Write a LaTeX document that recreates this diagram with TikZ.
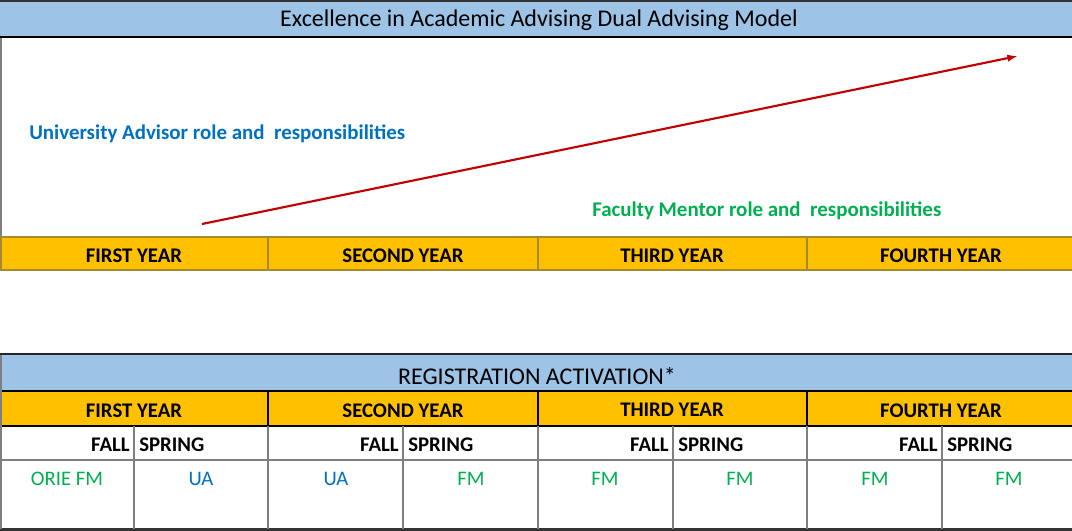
\documentclass[tikz,border=0pt]{standalone}
\usepackage{fontspec}
\setmainfont{Carlito}
\usetikzlibrary{arrows.meta}
\definecolor{barblue}{HTML}{9DC3E6}
\definecolor{yearorange}{HTML}{FFC000}
\definecolor{goldline}{HTML}{A88A2E}
\definecolor{arrowred}{HTML}{C00000}
\definecolor{uablue}{HTML}{0070C0}
\definecolor{fmgreen}{HTML}{00B050}
\definecolor{gridgray}{HTML}{7F7F7F}
\tikzset{
  titletext/.style={font=\fontsize{18}{21}\selectfont, inner sep=0pt},
  yeartext/.style={font=\bfseries\fontsize{15.6}{18}\selectfont, inner sep=0pt},
  semtext/.style={font=\bfseries\fontsize{15.6}{18}\selectfont, inner sep=0pt},
  uatext/.style={font=\fontsize{15.5}{18}\selectfont, text=uablue, inner sep=0pt},
  fmtext/.style={font=\fontsize{15.5}{18}\selectfont, text=fmgreen, inner sep=0pt},
  roletext/.style={font=\bfseries\fontsize{15.7}{18}\selectfont, inner sep=0pt, anchor=west},
}
\begin{document}
\begin{tikzpicture}[x=0.75pt,y=-0.75pt]
\useasboundingbox (0,0) rectangle (1072,531);
% ---------- top title bar ----------
\fill[barblue] (0,1) rectangle (1072,37);
\draw[line width=1.2pt, black!80] (0,1) -- (1072,1);
\draw[line width=2.2pt, black] (0,37) -- (1072,37);
\node[titletext] (title) at (539,20) {Excellence in Academic Advising Dual Advising Model};
% ---------- upper white area ----------
\draw[line width=1.2pt, gridgray] (1,38) -- (1,237);
\node[roletext, text=uablue] (ua) at (29,133.5) {University Advisor role and\ \ responsibilities};
\node[roletext, text=fmgreen] (fm) at (592,211) {Faculty Mentor role and\ \ responsibilities};
\coordinate (arrowstart) at (202,224);
\coordinate (arrowend) at (1018,56);
\draw[arrowred, line width=1.6pt, -{Latex[length=8pt,width=5.5pt]}] (arrowstart) -- (arrowend);
% ---------- upper year bar ----------
\fill[yearorange] (0,237) rectangle (1072,270);
\draw[goldline, line width=1.5pt] (0,237) -- (1072,237) (0,270) -- (1072,270) (1,237) -- (1,270);
\foreach \x in {268,538,807} \draw[goldline, line width=1pt] (\x,237) -- (\x,270);
\node[yeartext] (y1) at (134,255.5) {FIRST YEAR};
\node[yeartext] (y2) at (403,255.5) {SECOND YEAR};
\node[yeartext] (y3) at (672,255.5) {THIRD YEAR};
\node[yeartext] (y4) at (941,255.5) {FOURTH YEAR};
% ---------- registration table ----------
\fill[barblue] (0,355) rectangle (1072,391);
\fill[yearorange] (0,391) rectangle (1072,426);
\draw[line width=1.8pt, black!85] (0,354) -- (1072,354);
\draw[line width=1.5pt, black] (0,391) -- (1072,391);
\draw[line width=1.5pt, black] (0,426) -- (1072,426);
\draw[line width=1.2pt, gridgray] (0,460) -- (1072,460);
\draw[line width=1.8pt, black!80] (0,529.5) -- (1072,529.5);
\draw[line width=1.2pt, gridgray] (1,355) -- (1,529);
\foreach \x in {268,538,807} {
  \draw[line width=1.2pt, black] (\x,391) -- (\x,426);
  \draw[line width=1.2pt, gridgray] (\x,426) -- (\x,529);
}
\foreach \x in {134,403,673,942} \draw[line width=1.2pt, gridgray] (\x,426) -- (\x,529);
\node[titletext] (reg) at (537,376) {REGISTRATION ACTIVATION*};
\node[yeartext] (r1) at (134,410.5) {FIRST YEAR};
\node[yeartext] (r2) at (403,410.5) {SECOND YEAR};
\node[yeartext] (r3) at (672,410) {THIRD YEAR};
\node[yeartext] (r4) at (941,410.5) {FOURTH YEAR};
% semesters
\node[semtext, anchor=east] (f1) at (130,444.5) {FALL};
\node[semtext, anchor=west] (s1) at (139,444.5) {SPRING};
\node[semtext, anchor=east] (f2) at (399,444.5) {FALL};
\node[semtext, anchor=west] (s2) at (408,444.5) {SPRING};
\node[semtext, anchor=east] (f3) at (669,444.5) {FALL};
\node[semtext, anchor=west] (s3) at (678,444.5) {SPRING};
\node[semtext, anchor=east] (f4) at (938,444.5) {FALL};
\node[semtext, anchor=west] (s4) at (947,444.5) {SPRING};
% advisors
\node[fmtext] (a1) at (67,479) {ORIE FM};
\node[uatext] (a2) at (201,479) {UA};
\node[uatext] (a3) at (336,479) {UA};
\node[fmtext] (a4) at (471,479) {FM};
\node[fmtext] (a5) at (605,479) {FM};
\node[fmtext] (a6) at (740,479) {FM};
\node[fmtext] (a7) at (875,479) {FM};
\node[fmtext] (a8) at (1009,479) {FM};
\end{tikzpicture}
\end{document}
